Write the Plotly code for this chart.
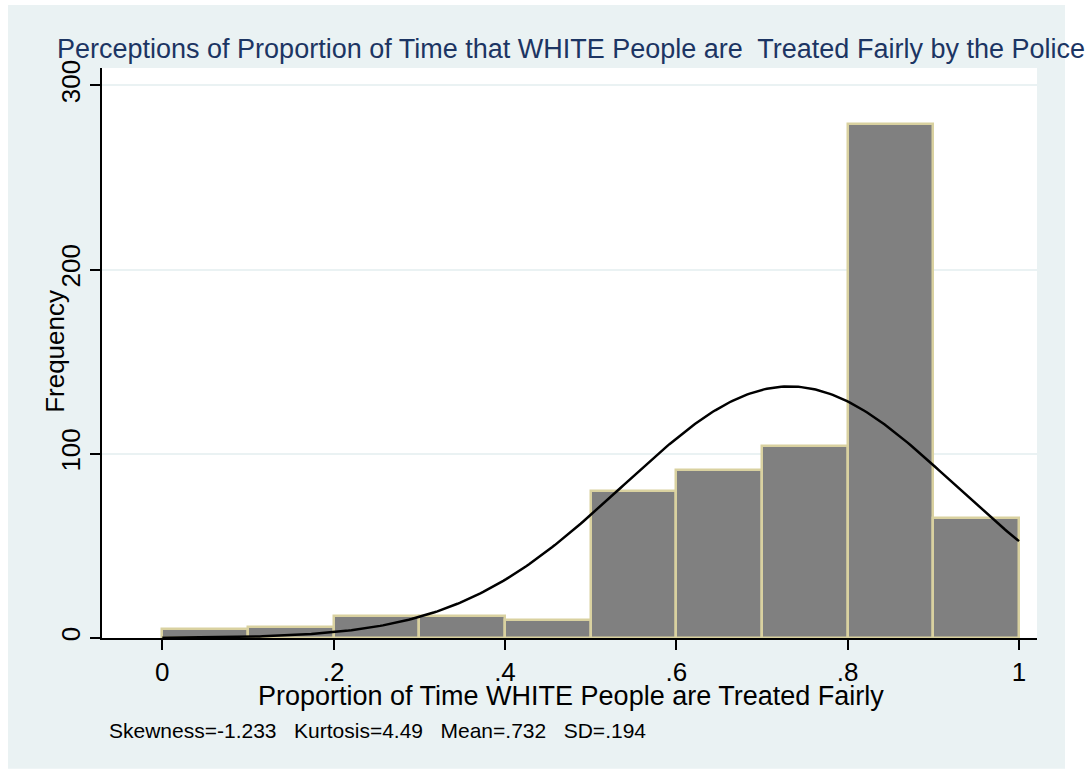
import numpy as np
import plotly.graph_objects as go

# Histogram counts (bin width 0.1)
bin_starts = [0.0, 0.1, 0.2, 0.3, 0.4, 0.5, 0.6, 0.7, 0.8, 0.9]
counts = [5, 6, 12, 12, 10, 80, 91, 104, 279, 65]
bin_width = 0.1

# Summary statistics shown under the chart
skewness = -1.233
kurtosis = 4.49
mean = 0.732
sd = 0.194

x_ticks = [0, 0.2, 0.4, 0.6, 0.8, 1]
x_tick_labels = ["0", ".2", ".4", ".6", ".8", "1"]
y_ticks = [0, 100, 200, 300]

W, H = 1092, 769
L, R, T, B = 102, 1037, 68, 638.3  # plot area in pixels
pw, ph = R - L, B - T


def px_x(p):
    return (p - L) / pw


def px_y(p):
    return (B - p) / ph


# Normal density scaled to the histogram frequencies
n_total = sum(counts)
xs = np.linspace(0, 1, 300)
ys = n_total * bin_width * np.exp(-0.5 * ((xs - mean) / sd) ** 2) / (sd * np.sqrt(2 * np.pi))

BG = "#eaf2f3"
FONT = "Liberation Sans, Arial, sans-serif"

fig = go.Figure()
fig.add_trace(go.Bar(
    x=bin_starts, y=counts, width=bin_width, offset=0,
    marker=dict(color="#808080", line=dict(color="#d9d1a0", width=2.5)),
    hoverinfo="skip",
))
fig.add_trace(go.Scatter(
    x=xs, y=ys, mode="lines", line=dict(color="black", width=2.5), hoverinfo="skip",
))

fig.update_layout(
    width=W, height=H,
    margin=dict(l=L, r=W - R, t=T, b=H - B),
    paper_bgcolor="white",
    plot_bgcolor="white",
    showlegend=False,
    bargap=0,
    font=dict(family=FONT, color="black", size=26),
    title=dict(
        text="Perceptions of Proportion of Time that WHITE People are&nbsp; Treated Fairly by the Police",
        xref="container", yref="container",
        x=57 / W, y=1 - 49 / H, xanchor="left", yanchor="middle",
        font=dict(family=FONT, size=27, color="#1c3563"),
    ),
    xaxis=dict(
        range=[(L - 162.3) / 856.7, (R - 162.3) / 856.7],
        tickvals=x_ticks, ticktext=x_tick_labels,
        ticks="outside", ticklen=10, tickwidth=1.5, tickcolor="black",
        showline=True, linecolor="black", linewidth=1.5,
        showgrid=False, zeroline=False,
        tickfont=dict(size=26),
    ),
    yaxis=dict(
        range=[0, (B - T) / 1.843],
        tickvals=y_ticks,
        ticks="outside", ticklen=10, tickwidth=1.5, tickcolor="black",
        tickangle=-90,
        showline=True, linecolor="black", linewidth=1.5,
        showgrid=True, gridcolor=BG, gridwidth=1.5,
        zeroline=False,
        tickfont=dict(size=26),
    ),
    shapes=[
        dict(type="rect", xref="paper", yref="paper", layer="below",
             x0=px_x(8), x1=px_x(1065), y0=px_y(769), y1=px_y(5),
             fillcolor=BG, line=dict(width=0)),
        dict(type="rect", xref="paper", yref="paper", layer="below",
             x0=0, x1=1, y0=0, y1=1,
             fillcolor="white", line=dict(width=0)),
    ],
    annotations=[
        dict(text="Frequency", textangle=-90, xref="paper", yref="paper",
             x=px_x(55), y=px_y(352), xanchor="center", yanchor="middle",
             showarrow=False, font=dict(size=26)),
        dict(text="Proportion of Time WHITE People are Treated Fairly",
             xref="paper", yref="paper", x=px_x(571), y=px_y(696),
             xanchor="center", yanchor="middle", showarrow=False,
             font=dict(size=27)),
        dict(text=f"Skewness={skewness}&nbsp;&nbsp; Kurtosis={kurtosis}&nbsp;&nbsp; "
                  f"Mean={str(mean).lstrip('0')}&nbsp;&nbsp; SD={str(sd).lstrip('0')}",
             xref="paper", yref="paper", x=px_x(107), y=px_y(731),
             xanchor="left", yanchor="middle", showarrow=False,
             font=dict(size=21)),
    ],
)

fig.write_html("out.html")
